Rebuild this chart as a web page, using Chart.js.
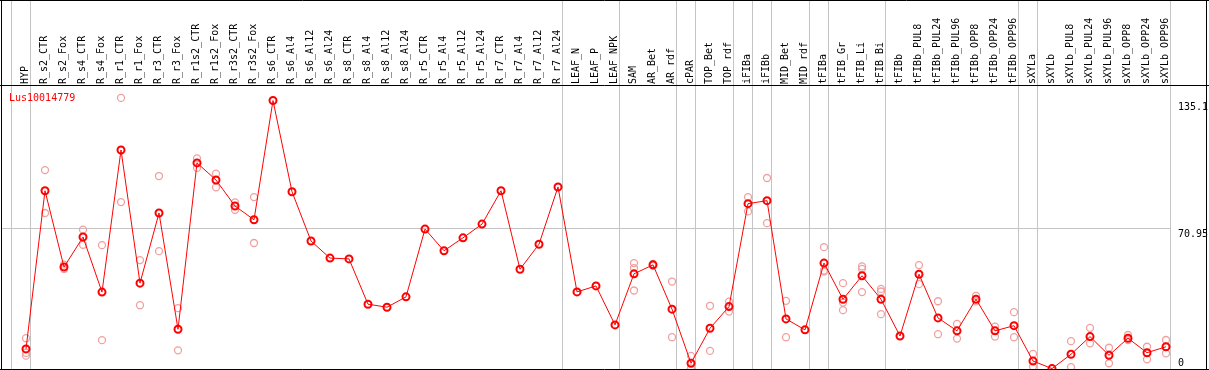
<!DOCTYPE html>
<html><head><meta charset="utf-8">
<script src="https://cdn.jsdelivr.net/npm/chart.js@4.4.0/dist/chart.umd.min.js"></script>
<style>html,body{margin:0;padding:0;background:#fff;overflow:hidden}canvas{display:block}</style>
</head><body>
<canvas id="c" width="1209" height="370" style="width:1209px;height:370px"></canvas>
<script>
const seriesName = 'Lus10014779';
const categories = ['HYP','R_s2_CTR','R_s2_Fox','R_s4_CTR','R_s4_Fox','R_r1_CTR','R_r1_Fox','R_r3_CTR','R_r3_Fox','R_r1s2_CTR','R_r1s2_Fox','R_r3s2_CTR','R_r3s2_Fox','R_s6_CTR','R_s6_Al4','R_s6_Al12','R_s6_Al24','R_s8_CTR','R_s8_Al4','R_s8_Al12','R_s8_Al24','R_r5_CTR','R_r5_Al4','R_r5_Al12','R_r5_Al24','R_r7_CTR','R_r7_Al4','R_r7_Al12','R_r7_Al24','LEAF_N','LEAF_P','LEAF_NPK','SAM','AR_Bet','AR_rdf','cPAR','TOP_Bet','TOP_rdf','iFIBa','iFIBb','MID_Bet','MID_rdf','tFIBa','tFIB_Gr','tFIB_Li','tFIB_Bi','tFIBb','tFIBb_PUL8','tFIBb_PUL24','tFIBb_PUL96','tFIBb_OPP8','tFIBb_OPP24','tFIBb_OPP96','sXYLa','sXYLb','sXYLb_PUL8','sXYLb_PUL24','sXYLb_PUL96','sXYLb_OPP8','sXYLb_OPP24','sXYLb_OPP96'];
const means = [10.1,89.7,51.3,66.4,38.7,110.2,43.2,78.5,20.0,103.7,95.1,82.0,75.1,135.1,89.2,64.4,55.8,55.4,32.6,31.1,36.3,70.4,59.5,66.0,72.9,89.7,50.2,62.8,91.6,38.8,41.8,22.2,47.9,52.4,30.1,2.9,20.5,31.4,83.2,84.7,25.2,19.7,53.3,35.1,46.9,35.1,16.6,47.7,25.7,19.2,35.1,19.2,21.8,4.0,0.2,7.4,16.3,6.9,15.5,8.2,11.2];
const rep1 = [15.5,100.1,52.5,70.1,62.3,136.4,54.8,97.1,30.6,106.0,98.3,83.8,86.5,null,null,null,null,null,null,null,null,null,null,null,null,null,null,null,null,null,null,null,53.3,52.9,44.0,6.6,31.8,33.9,86.5,96.1,34.3,null,61.3,43.2,51.6,40.3,null,52.3,34.1,22.7,36.8,21.3,28.6,7.6,null,14.0,20.7,10.7,17.1,11.2,14.6];
const rep2 = [6.7,78.5,50.3,62.5,14.5,84.0,32.1,59.3,9.4,101.2,91.4,80.1,63.4,null,null,null,null,null,null,null,null,null,null,null,null,null,null,null,null,null,null,null,50.8,51.9,16.0,0.3,9.1,28.9,79.3,73.4,16.0,null,49.6,33.4,50.4,39.0,null,42.7,17.5,15.3,34.0,16.3,16.0,1.2,null,0.9,12.9,2.9,14.6,4.9,7.9];
const rep3 = [8.1,null,null,null,null,null,null,null,null,null,null,null,null,null,null,null,null,null,null,null,null,null,null,null,null,null,null,null,null,null,null,null,39.5,null,null,null,null,null,null,null,null,null,49.0,29.6,38.7,27.6,null,null,null,null,null,null,null,null,null,null,null,null,null,null,null];
const groupSizes = [1,28,3,3,1,2,1,1,2,1,3,7,1,7];
const yMin = 0, yMax = 141.9;
const yLabelValues = [0, 70.95, 135.1];
const yLabelTexts = ['0', '70.95', '135.1'];

const FONT = '"DejaVu Sans Mono", monospace';
const sepGap = 4/19;
const separators = [-1 + sepGap];
{ let end = -1; groupSizes.forEach(g => { end += g; separators.push(end + sepGap); }); }

const repData = [];
[rep1, rep2, rep3].forEach(r => r.forEach((v, i) => { if (v !== null) repData.push({x: i, y: v}); }));

const decor = {
  id: 'decor',
  beforeDatasetsDraw(chart) {
    const {ctx, chartArea: a, scales: {x, y}} = chart;
    ctx.save();
    ctx.strokeStyle = '#c4c4c4'; ctx.lineWidth = 1;
    separators.forEach(v => {
      const px = Math.round(x.getPixelForValue(v)) + 0.5;
      ctx.beginPath(); ctx.moveTo(px, 0); ctx.lineTo(px, a.bottom); ctx.stroke();
    });
    ctx.restore();
  },
  afterDraw(chart) {
    const {ctx, chartArea: a, scales: {y}, width, height} = chart;
    ctx.save();
    ctx.strokeStyle = '#000'; ctx.lineWidth = 1;
    ctx.beginPath();
    ctx.moveTo(0, 0.5); ctx.lineTo(width, 0.5);
    ctx.moveTo(0, 85.5); ctx.lineTo(width, 85.5);
    ctx.moveTo(0, height - 0.5); ctx.lineTo(width, height - 0.5);
    ctx.moveTo(1.5, 0); ctx.lineTo(1.5, height);
    ctx.moveTo(width - 2.5, 0); ctx.lineTo(width - 2.5, height);
    ctx.stroke();
    ctx.font = '10px ' + FONT;
    ctx.fillStyle = '#000';
    ctx.textAlign = 'left';
    ctx.textBaseline = 'alphabetic';
    yLabelValues.forEach((v, i) => {
      const py = y.getPixelForValue(v);
      const by = (v === yMin) ? py - 3.5 : py + 9;
      ctx.fillText(yLabelTexts[i], a.right + 8, by);
    });
    ctx.fillStyle = '#ff0000';
    ctx.fillText(seriesName, 9, 100.5);
    ctx.restore();
  }
};

new Chart(document.getElementById('c'), {
  type: 'line',
  data: {
    datasets: [
      {label: seriesName, data: means.map((v, i) => ({x: i, y: v})), borderColor: '#ff0000', borderWidth: 1,
       pointRadius: 3.5, pointBorderWidth: 2, pointBorderColor: '#ff0000', pointBackgroundColor: 'rgba(0,0,0,0)',
       tension: 0, order: 0, clip: false},
      {label: 'replicates', type: 'scatter', data: repData, pointRadius: 3.5, pointBorderWidth: 1.3,
       pointBorderColor: '#f0a0a0', borderColor: '#f0a0a0', backgroundColor: 'rgba(0,0,0,0)', pointBackgroundColor: 'rgba(0,0,0,0)',
       showLine: false, order: 1, clip: false}
    ]
  },
  options: {
    responsive: false, animation: false, devicePixelRatio: 1,
    layout: {autoPadding: false, padding: {left: 1, right: 0, top: 0, bottom: 1}},
    plugins: {legend: {display: false}, tooltip: {enabled: false}},
    scales: {
      x: {
        type: 'linear', position: 'top', min: -25/19, max: 60 + sepGap,
        afterBuildTicks: s => { s.ticks = categories.map((c, i) => ({value: i})); },
        afterFit: s => { s.height = 87; s.paddingLeft = 0; s.paddingRight = 0; },
        ticks: {autoSkip: false, minRotation: 90, maxRotation: 90, padding: 3, labelOffset: 11, color: '#000',
                font: {family: FONT, size: 10}, callback: v => categories[v] ?? ''},
        grid: {display: false, drawTicks: false}, border: {display: false}
      },
      y: {
        position: 'right', min: yMin, max: yMax,
        afterBuildTicks: s => { s.ticks = [{value: yLabelValues[1]}]; },
        afterFit: s => { s.width = 39; },
        ticks: {display: false},
        grid: {color: '#c4c4c4', lineWidth: 1, drawTicks: false}, border: {display: false}
      }
    }
  },
  plugins: [decor]
});
</script>
</body></html>
